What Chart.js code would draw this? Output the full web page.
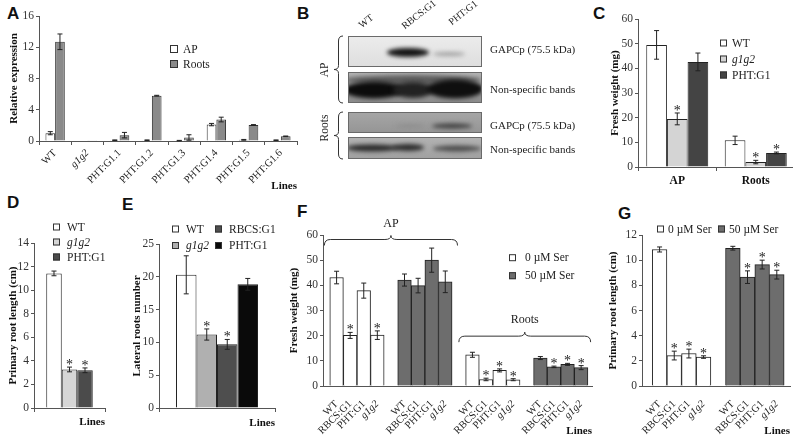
<!DOCTYPE html>
<html>
<head>
<meta charset="utf-8">
<title>Figure</title>
<script src="https://cdn.jsdelivr.net/npm/chart.js@4.4.0/dist/chart.umd.min.js"></script>
<style>
  html, body { margin: 0; padding: 0; background: #fff; overflow: hidden; }
  body { width: 793px; height: 436px; position: relative; font-family: 'Liberation Serif', 'Times New Roman', serif; color: #222; }
  .panel { position: absolute; }
  .letter { position: absolute; font-family: 'Liberation Sans', Arial, sans-serif; font-weight: bold; font-size: 17px; line-height: 1; color: #111; }
  .txt { position: absolute; font-size: 11px; line-height: 1; white-space: nowrap; color: #222; }
  .lane { position: absolute; font-size: 10px; line-height: 10px; white-space: nowrap; transform-origin: 0 100%; transform: rotate(-38deg); }
  .vlab { position: absolute; width: 40px; height: 12px; font-size: 11.5px; line-height: 12px; text-align: center; transform: rotate(-90deg); }
</style>
</head>
<body>

<div class="letter" style="left:7px;top:5px">A</div>
<div class="letter" style="left:297px;top:5px">B</div>
<div class="letter" style="left:593px;top:5px">C</div>
<div class="letter" style="left:7px;top:194px">D</div>
<div class="letter" style="left:122px;top:196px">E</div>
<div class="letter" style="left:297px;top:203px">F</div>
<div class="letter" style="left:618px;top:205px">G</div>

<div class="panel" style="left:0;top:0;width:300px;height:195px"><canvas id="chartA"></canvas></div>

<!-- panel B : western blot -->
<canvas id="blot" class="panel" style="left:300px;top:0" width="290" height="200"></canvas>
<div class="lane" style="left:363px;top:20px">WT</div>
<div class="lane" style="left:406px;top:21px">RBCS:G1</div>
<div class="lane" style="left:453px;top:17px">PHT:G1</div>
<div class="txt" style="left:490px;top:44px">GAPCp (75.5 kDa)</div>
<div class="txt" style="left:490px;top:84px">Non-specific bands</div>
<div class="txt" style="left:490px;top:120px">GAPCp (75.5 kDa)</div>
<div class="txt" style="left:490px;top:144px">Non-specific bands</div>
<div class="vlab" style="left:304px;top:64px">AP</div>
<div class="vlab" style="left:304px;top:122px">Roots</div>

<div class="panel" style="left:590px;top:0;width:205px;height:200px"><canvas id="chartC"></canvas></div>
<div class="panel" style="left:0;top:215px;width:112px;height:221px"><canvas id="chartD"></canvas></div>
<div class="panel" style="left:112px;top:215px;width:190px;height:221px"><canvas id="chartE"></canvas></div>
<div class="panel" style="left:283px;top:215px;width:317px;height:230px"><canvas id="chartF"></canvas></div>
<div class="panel" style="left:600px;top:215px;width:193px;height:230px"><canvas id="chartG"></canvas></div>

<script>
// ---------------------------------------------------------------
// DATA
// ---------------------------------------------------------------
// A - relative expression
const aLines = ['WT', 'g1g2', 'PHT:G1.1', 'PHT:G1.2', 'PHT:G1.3', 'PHT:G1.4', 'PHT:G1.5', 'PHT:G1.6'];
const aAP = [1.0, 0, 0.1, 0.1, 0.05, 2.1, 0.15, 0.1];
const aAPErr = [0.2, 0, 0.04, 0.04, 0.03, 0.15, 0.05, 0.04];
const aRoots = [12.7, 0.03, 0.75, 5.8, 0.45, 2.75, 2.05, 0.6];
const aRootsErr = [1.0, 0, 0.35, 0.05, 0.35, 0.3, 0.05, 0.04];

// C - fresh weight
const cGroups = ['AP', 'Roots'];
const cWT = [49.5, 10.8], cWTErr = [5.8, 1.7];
const cG1G2 = [19.5, 2.0], cG1G2Err = [2.4, 0.7], cG1G2Sig = [true, true];
const cPHT = [42.6, 5.7], cPHTErr = [3.6, 0.35], cPHTSig = [false, true];

// D - primary root length
const dLines = ['WT', 'g1g2', 'PHT:G1'];
const dValues = [11.42, 3.27, 3.2];
const dErr = [0.2, 0.2, 0.2];
const dSig = [false, true, true];
const dColors = ['#ffffff', '#d6d6d6', '#4b4b4b'];

// E - lateral roots
const eLines = ['WT', 'g1g2', 'RBCS:G1', 'PHT:G1'];
const eValues = [20.3, 11.2, 9.7, 18.85];
const eErr = [2.9, 0.85, 0.75, 0.9];
const eSig = [false, true, true, false];
const eColors = ['#ffffff', '#b0b0b0', '#4e4e4e', '#0a0a0a'];

// F - fresh weight with / without serine
const fLines = ['WT', 'RBCS:G1', 'PHT:G1', 'g1g2'];
const fAP0 = [43.1, 20.1, 37.9, 20.2], fAP0Err = [2.5, 1.2, 3.0, 1.7], fAP0Sig = [false, true, false, true];
const fAP50 = [42.1, 39.9, 50.0, 41.4], fAP50Err = [2.4, 2.9, 4.8, 4.3], fAP50Sig = [false, false, false, false];
const fRoots0 = [12.4, 2.6, 6.2, 2.5], fRoots0Err = [1.0, 0.5, 0.6, 0.4], fRoots0Sig = [false, true, true, true];
const fRoots50 = [11.1, 7.6, 8.6, 7.3], fRoots50Err = [0.6, 0.3, 0.4, 0.8], fRoots50Sig = [false, true, true, true];

// G - primary root length with / without serine
const gLines = ['WT', 'RBCS:G1', 'PHT:G1', 'g1g2'];
const g0 = [10.85, 2.42, 2.58, 2.3], g0Err = [0.2, 0.35, 0.35, 0.1], g0Sig = [false, true, true, true];
const g50 = [10.95, 8.65, 9.65, 8.85], g50Err = [0.15, 0.5, 0.35, 0.35], g50Sig = [false, true, true, true];

// ---------------------------------------------------------------
// CHART DEFAULTS & HELPERS
// ---------------------------------------------------------------
Chart.defaults.font.family = "'Liberation Serif', 'Times New Roman', serif";
Chart.defaults.font.size = 11;
Chart.defaults.color = '#222';
Chart.defaults.animation = false;
Chart.defaults.plugins.legend.display = false;
Chart.defaults.plugins.tooltip.enabled = false;

const AXIS = '#555';
const SERIF = "'Liberation Serif', 'Times New Roman', serif";
const italic = t => (t === 'g1g2' ? 'italic' : 'normal');

function yLin(max, step, title, width, titlePad) {
    return {
        min: 0, max: max,
        grid: { drawOnChartArea: false, tickLength: 3, color: AXIS },
        border: { color: AXIS },
        ticks: { stepSize: step, padding: 2, color: '#333', font: { size: 11.5 } },
        title: { display: true, text: title, color: '#111', font: { weight: 'bold', size: 11 }, padding: { top: titlePad, bottom: 0 } },
        afterFit: s => { s.width = width; s.paddingTop = 0; s.paddingBottom = 0; }
    };
}

function xCat(height, title, titlePad, tickOpts) {
    return {
        grid: { drawOnChartArea: false, tickLength: 4, color: AXIS },
        border: { color: AXIS },
        ticks: Object.assign({ autoSkip: false, padding: 1 }, tickOpts),
        title: title ? { display: true, text: title, align: 'end', color: '#111', font: { weight: 'bold', size: 11 }, padding: { top: 0, bottom: titlePad } } : { display: false },
        afterFit: s => { s.height = height; s.paddingLeft = 0; s.paddingRight = 0; }
    };
}

// x axis for the serine panels: one slot per bar, an empty slot between groups
function xSlots(names, min, max, height, titlePad) {
    const nameAt = {};
    names.forEach(n => { nameAt[n.slot] = n.label; });
    return {
        type: 'linear', min: min, max: max, offset: false,
        grid: { display: false },
        border: { display: true, color: AXIS },
        afterBuildTicks: s => { s.ticks = names.map(n => ({ value: n.slot })); },
        ticks: {
            autoSkip: false, minRotation: 45, maxRotation: 45, padding: 4,
            callback: v => nameAt[v],
            font: c => ({ size: 10.5, style: italic(c.tick && c.tick.label) })
        },
        title: { display: true, text: 'Lines', align: 'end', color: '#111', font: { weight: 'bold', size: 11 }, padding: { top: 0, bottom: titlePad } },
        afterFit: s => { s.height = height; s.paddingLeft = 0; s.paddingRight = 0; }
    };
}

// error bars + significance stars (reads ds.errors / ds.sig)
const errorBars = {
    id: 'errorBars',
    afterDatasetsDraw(chart) {
        const ctx = chart.ctx;
        const y = chart.scales.y;
        ctx.save();
        chart.data.datasets.forEach((ds, di) => {
            if (!ds.errors) return;
            const meta = chart.getDatasetMeta(di);
            meta.data.forEach((bar, i) => {
                const raw = ds.data[i];
                const v = (raw !== null && typeof raw === 'object') ? raw.y : raw;
                const e = ds.errors[i] || 0;
                const top = y.getPixelForValue(v + e);
                if (e > 0) {
                    const bot = y.getPixelForValue(v - e);
                    ctx.strokeStyle = '#222';
                    ctx.lineWidth = 1;
                    ctx.beginPath();
                    ctx.moveTo(bar.x, top); ctx.lineTo(bar.x, bot);
                    ctx.moveTo(bar.x - 2.5, top); ctx.lineTo(bar.x + 2.5, top);
                    ctx.moveTo(bar.x - 2.5, bot); ctx.lineTo(bar.x + 2.5, bot);
                    ctx.stroke();
                }
                if (ds.sig && ds.sig[i]) {
                    ctx.fillStyle = '#222';
                    ctx.font = '14px ' + SERIF;
                    ctx.textAlign = 'center';
                    ctx.textBaseline = 'alphabetic';
                    ctx.fillText('*', bar.x, top + 2);
                }
            });
        });
        ctx.restore();
    }
};
Chart.register(errorBars);

// small boxed legend, drawn inside the canvas
function boxLegend(o) {
    return {
        id: 'boxLegend',
        afterDraw(chart) {
            const ctx = chart.ctx;
            ctx.save();
            chart.data.datasets.forEach((ds, i) => {
                const col = Math.floor(i / o.rows), row = i % o.rows;
                const bx = o.x + col * o.colW, cy = o.y + row * o.rowH;
                ctx.fillStyle = ds.backgroundColor;
                ctx.fillRect(bx, cy - o.box / 2, o.box, o.box);
                ctx.strokeStyle = '#333';
                ctx.lineWidth = 1;
                ctx.strokeRect(bx + 0.5, cy - o.box / 2 + 0.5, o.box - 1, o.box - 1);
                ctx.fillStyle = '#222';
                ctx.font = italic(ds.label) + ' 11.5px ' + SERIF;
                ctx.textAlign = 'left';
                ctx.textBaseline = 'middle';
                ctx.fillText(ds.label, bx + o.box + o.gap, cy + 0.5);
            });
            ctx.restore();
        }
    };
}

// horizontal curly brace, tip pointing up
function hBrace(ctx, x0, x1, yt) {
    const xc = (x0 + x1) / 2, ym = yt + 4, yb = yt + 10;
    ctx.beginPath();
    ctx.moveTo(x0, yb);
    ctx.quadraticCurveTo(x0, ym, x0 + 6, ym);
    ctx.lineTo(xc - 6, ym);
    ctx.quadraticCurveTo(xc, ym, xc, yt);
    ctx.quadraticCurveTo(xc, ym, xc + 6, ym);
    ctx.lineTo(x1 - 6, ym);
    ctx.quadraticCurveTo(x1, ym, x1, yb);
    ctx.stroke();
}

function braceLabels(items) {
    return {
        id: 'braceLabels',
        afterDraw(chart) {
            const { ctx, scales: { x, y } } = chart;
            ctx.save();
            ctx.strokeStyle = '#333';
            ctx.lineWidth = 1;
            items.forEach(b => {
                const x0 = x.getPixelForValue(b.from), x1 = x.getPixelForValue(b.to);
                const yt = y.getPixelForValue(b.at);
                hBrace(ctx, x0, x1, yt);
                ctx.fillStyle = '#222';
                ctx.font = '12px ' + SERIF;
                ctx.textAlign = 'center';
                ctx.textBaseline = 'middle';
                ctx.fillText(b.label, (x0 + x1) / 2, yt - 12);
            });
            ctx.restore();
        }
    };
}

const base = { responsive: true, maintainAspectRatio: false };

// ---------------------------------------------------------------
// A. RELATIVE EXPRESSION
// ---------------------------------------------------------------
new Chart(document.getElementById('chartA'), {
    type: 'bar',
    data: {
        labels: aLines,
        datasets: [
            { label: 'AP', data: aAP, errors: aAPErr, backgroundColor: '#ffffff', borderColor: '#333', borderWidth: 1, categoryPercentage: 0.6, barPercentage: 1 },
            { label: 'Roots', data: aRoots, errors: aRootsErr, backgroundColor: '#8a8a8a', borderColor: '#333', borderWidth: 1, categoryPercentage: 0.6, barPercentage: 1 }
        ]
    },
    options: Object.assign({}, base, {
        layout: { padding: { top: 16, right: 3, left: 0, bottom: 0 } },
        scales: {
            x: xCat(54, 'Lines', 2.4, { minRotation: 45, maxRotation: 45, padding: 2, font: c => ({ size: 10.5, style: italic(c.tick && c.tick.label) }) }),
            y: yLin(16, 4, 'Relative expression', 39, 7.4)
        }
    }),
    plugins: [boxLegend({ x: 170, y: 49, rows: 2, rowH: 15, colW: 0, box: 8, gap: 5 })]
});

// ---------------------------------------------------------------
// B. WESTERN BLOT (plain canvas)
// ---------------------------------------------------------------
(function drawBlot() {
    const ctx = document.getElementById('blot').getContext('2d');
    const x0 = 48, x1 = 182;

    function box(y0, y1, bgTop, bgBot, bands) {
        ctx.save();
        ctx.beginPath();
        ctx.rect(x0, y0, x1 - x0, y1 - y0);
        ctx.clip();
        const g = ctx.createLinearGradient(0, y0, 0, y1);
        g.addColorStop(0, bgTop);
        g.addColorStop(1, bgBot);
        ctx.fillStyle = g;
        ctx.fillRect(x0, y0, x1 - x0, y1 - y0);
        ctx.filter = 'blur(2px)';
        bands.forEach(b => {
            ctx.fillStyle = b.c;
            ctx.beginPath();
            ctx.ellipse(b.x, b.y, b.rx, b.ry, 0, 0, Math.PI * 2);
            ctx.fill();
        });
        ctx.restore();
        ctx.strokeStyle = '#6a6a6a';
        ctx.lineWidth = 1;
        ctx.strokeRect(x0 + 0.5, y0 + 0.5, x1 - x0 - 1, y1 - y0 - 1);
    }

    box(36, 67, '#ececec', '#dedede', [
        { x: 108, y: 52.5, rx: 21, ry: 4.5, c: '#141414' },
        { x: 149, y: 54, rx: 16, ry: 2, c: '#a0a0a0' }
    ]);
    box(72, 103, '#b4b4b4', '#8a8a8a', [
        { x: 113, y: 80, rx: 68, ry: 5, c: '#5e5e5e' },
        { x: 74, y: 90, rx: 30, ry: 8.5, c: '#0c0c0c' },
        { x: 113, y: 90, rx: 20, ry: 8, c: '#222222' },
        { x: 155, y: 89, rx: 28, ry: 9.5, c: '#0f0f0f' }
    ]);
    box(112, 133, '#a6a6a6', '#959595', [
        { x: 110, y: 126, rx: 15, ry: 1.5, c: '#8a8a8a' },
        { x: 152, y: 126, rx: 20, ry: 2.5, c: '#3e3e3e' }
    ]);
    box(137, 159, '#b2b2b2', '#a0a0a0', [
        { x: 72, y: 148, rx: 26, ry: 3.5, c: '#2a2a2a' },
        { x: 108, y: 147.5, rx: 16, ry: 3.5, c: '#2c2c2c' },
        { x: 157, y: 148.5, rx: 24, ry: 3, c: '#4a4a4a' }
    ]);

    // braces grouping AP / Roots
    function vBrace(xt, xm, xe, y0, y1) {
        const ym = (y0 + y1) / 2;
        ctx.beginPath();
        ctx.moveTo(xe, y0);
        ctx.quadraticCurveTo(xm, y0, xm, y0 + 5);
        ctx.lineTo(xm, ym - 4);
        ctx.quadraticCurveTo(xm, ym, xt, ym);
        ctx.quadraticCurveTo(xm, ym, xm, ym + 4);
        ctx.lineTo(xm, y1 - 5);
        ctx.quadraticCurveTo(xm, y1, xe, y1);
        ctx.stroke();
    }
    ctx.strokeStyle = '#333';
    vBrace(34, 38.5, 43, 36, 103);
    vBrace(34, 38.5, 43, 112, 159);
})();

// ---------------------------------------------------------------
// C. FRESH WEIGHT
// ---------------------------------------------------------------
const cBar = { borderColor: '#222', borderWidth: 1, categoryPercentage: 0.79, barPercentage: 1 };
new Chart(document.getElementById('chartC'), {
    type: 'bar',
    data: {
        labels: cGroups,
        datasets: [
            Object.assign({ label: 'WT', data: cWT, errors: cWTErr, backgroundColor: '#ffffff' }, cBar),
            Object.assign({ label: 'g1g2', data: cG1G2, errors: cG1G2Err, sig: cG1G2Sig, backgroundColor: '#d4d4d4' }, cBar),
            Object.assign({ label: 'PHT:G1', data: cPHT, errors: cPHTErr, sig: cPHTSig, backgroundColor: '#444444' }, cBar)
        ]
    },
    options: Object.assign({}, base, {
        layout: { padding: { top: 19, right: 0, left: 0, bottom: 0 } },
        scales: {
            x: xCat(33, null, 0, { padding: 3, color: '#111', font: { weight: 'bold', size: 11.5 } }),
            y: yLin(60, 10, 'Fresh weight (mg)', 48, 18.4)
        }
    }),
    plugins: [boxLegend({ x: 130, y: 43, rows: 3, rowH: 16, colW: 0, box: 7, gap: 5 })]
});

// ---------------------------------------------------------------
// D. PRIMARY ROOT LENGTH
// ---------------------------------------------------------------
new Chart(document.getElementById('chartD'), {
    type: 'bar',
    data: {
        labels: ['Lines'],
        datasets: dLines.map((name, i) => ({
            label: name, data: [dValues[i]], errors: [dErr[i]], sig: [dSig[i]],
            backgroundColor: dColors[i], borderColor: '#222', borderWidth: 1,
            categoryPercentage: 0.655, barPercentage: 1
        }))
    },
    options: Object.assign({}, base, {
        layout: { padding: { top: 28, right: 7, left: 0, bottom: 0 } },
        scales: {
            x: xCat(28, 'Lines', 7.4, { display: false }),
            y: yLin(14, 2, 'Primary root length (cm)', 34, 6.9)
        }
    }),
    plugins: [boxLegend({ x: 53, y: 12, rows: 3, rowH: 15, colW: 0, box: 7, gap: 7 })]
});

// ---------------------------------------------------------------
// E. LATERAL ROOTS NUMBER
// ---------------------------------------------------------------
new Chart(document.getElementById('chartE'), {
    type: 'bar',
    data: {
        labels: ['Lines'],
        datasets: eLines.map((name, i) => ({
            label: name, data: [eValues[i]], errors: [eErr[i]], sig: [eSig[i]],
            backgroundColor: eColors[i], borderColor: '#222', borderWidth: 1,
            categoryPercentage: 0.707, barPercentage: 1
        }))
    },
    options: Object.assign({}, base, {
        layout: { padding: { top: 29, right: 27, left: 0, bottom: 0 } },
        scales: {
            x: xCat(28, 'Lines', 6.4, { display: false }),
            y: yLin(25, 5, 'Lateral roots number', 47, 18.9)
        }
    }),
    plugins: [boxLegend({ x: 60, y: 14, rows: 2, rowH: 16.5, colW: 43, box: 7, gap: 7 })]
});

// ---------------------------------------------------------------
// F. FRESH WEIGHT +/- SERINE
// ---------------------------------------------------------------
const fSlot = (g, i) => g * (fLines.length + 1) + i;
const fPoints = (g, vals) => vals.map((v, i) => ({ x: fSlot(g, i), y: v }));
const fNames = [0, 1, 2, 3].flatMap(g => fLines.map((n, i) => ({ slot: fSlot(g, i), label: n })));
const serBar = { borderColor: '#222', borderWidth: 1, grouped: false, categoryPercentage: 1, barPercentage: 1 };

new Chart(document.getElementById('chartF'), {
    type: 'bar',
    data: {
        datasets: [
            Object.assign({
                label: '0 µM Ser', backgroundColor: '#ffffff',
                data: fPoints(0, fAP0).concat(fPoints(2, fRoots0)),
                errors: fAP0Err.concat(fRoots0Err), sig: fAP0Sig.concat(fRoots0Sig)
            }, serBar),
            Object.assign({
                label: '50 µM Ser', backgroundColor: '#6d6d6d',
                data: fPoints(1, fAP50).concat(fPoints(3, fRoots50)),
                errors: fAP50Err.concat(fRoots50Err), sig: fAP50Sig.concat(fRoots50Sig)
            }, serBar)
        ]
    },
    options: Object.assign({}, base, {
        layout: { padding: { top: 20, right: 8, left: 0, bottom: 0 } },
        scales: {
            x: xSlots(fNames, -1.0, 18.8, 59, 6.9),
            y: yLin(60, 10, 'Fresh weight (mg)', 40, 4.4)
        }
    }),
    plugins: [
        boxLegend({ x: 226, y: 42.7, rows: 2, rowH: 18, colW: 0, box: 7, gap: 9 }),
        braceLabels([
            { from: -0.9, to: 8.9, at: 59.8, label: 'AP' },
            { from: 9.0, to: 18.7, at: 21.4, label: 'Roots' }
        ])
    ]
});

// ---------------------------------------------------------------
// G. PRIMARY ROOT LENGTH +/- SERINE
// ---------------------------------------------------------------
const gSlot = (g, i) => g * (gLines.length + 1) + i;
const gPoints = (g, vals) => vals.map((v, i) => ({ x: gSlot(g, i), y: v }));
const gNames = [0, 1].flatMap(g => gLines.map((n, i) => ({ slot: gSlot(g, i), label: n })));

new Chart(document.getElementById('chartG'), {
    type: 'bar',
    data: {
        datasets: [
            Object.assign({ label: '0 µM Ser', backgroundColor: '#ffffff', data: gPoints(0, g0), errors: g0Err, sig: g0Sig }, serBar),
            Object.assign({ label: '50 µM Ser', backgroundColor: '#6d6d6d', data: gPoints(1, g50), errors: g50Err, sig: g50Sig }, serBar)
        ]
    },
    options: Object.assign({}, base, {
        layout: { padding: { top: 20, right: 3, left: 0, bottom: 0 } },
        scales: {
            x: xSlots(gNames, -1.2, 8.9, 59, 6.9),
            y: yLin(12, 2, 'Primary root length (cm)', 42, 6.4)
        }
    }),
    plugins: [boxLegend({ x: 57, y: 14, rows: 1, rowH: 0, colW: 61, box: 7, gap: 4 })]
});
</script>
</body>
</html>
